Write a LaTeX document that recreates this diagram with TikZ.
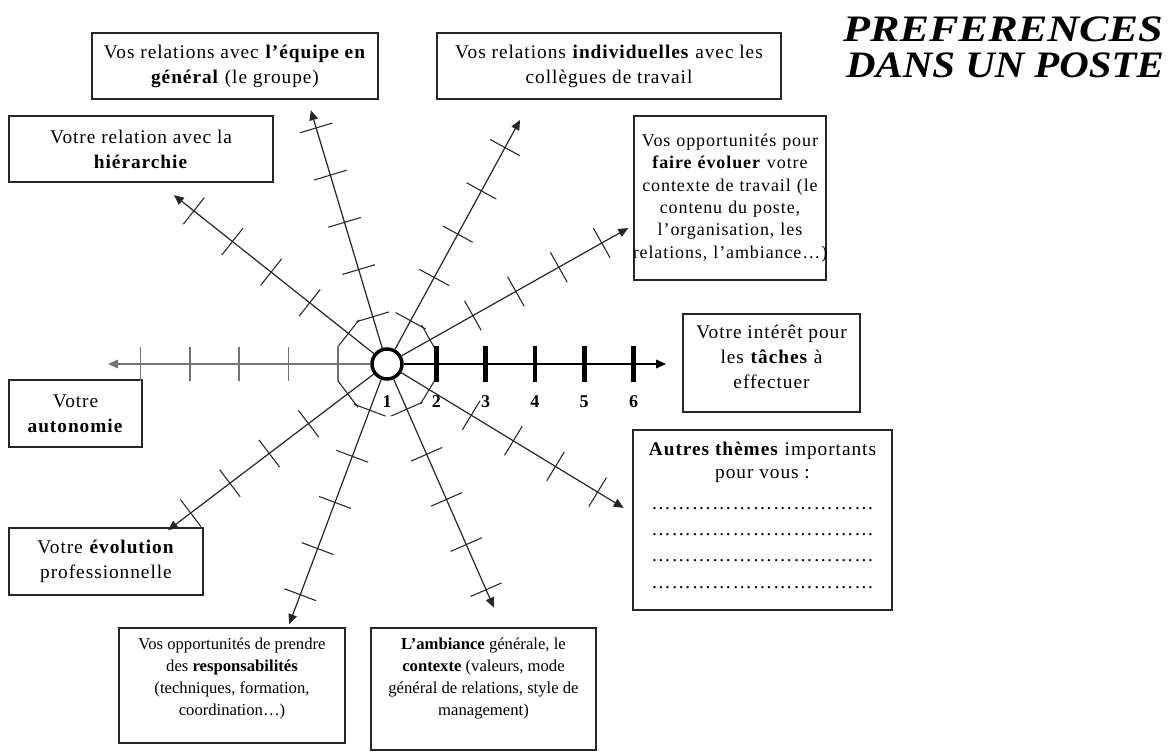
\documentclass[tikz,border=0pt]{standalone}
\usepackage{fontspec}
\setmainfont{Liberation Serif}
\newfontfamily\boxfont{Liberation Serif}[LetterSpace=5]
\usetikzlibrary{calc, arrows.meta}

\begin{document}
\begin{tikzpicture}[x=0.75pt, y=0.75pt,
    every node/.style={font=\boxfont\fontsize{14.5}{18.75}\selectfont},
    % Theme box: plain rectangle, thin border
    theme/.style={rectangle, draw=black!85, line width=1pt,
        align=center, inner sep=2pt},
    % Lower boxes are set tighter
    tight/.style={font=\rmfamily\fontsize{12.5}{16.5}\selectfont},
    % Centre of the star
    hub/.style={circle, draw=black, line width=2.6pt, fill=white,
        minimum size=22.5pt, inner sep=0pt},
    % Axes and their ticks
    axis/.style={line width=0.9pt, draw=black!85,
        -{Triangle[length=7.5pt, width=6.5pt]}},
    tick/.style={line width=0.8pt, draw=black!85},
    scaleaxis/.style={axis, draw=black, line width=1.1pt},
    scaletick/.style={line width=3.6pt, draw=black},
    greyaxis/.style={axis, draw=black!55, line width=1.1pt},
    greytick/.style={line width=1.3pt, draw=black!55},
    num/.style={font=\boxfont\fontsize{13.5}{15}\selectfont\bfseries, inner sep=1pt},
    title/.style={font=\rmfamily\fontsize{28}{30}\selectfont\bfseries\itshape, inner sep=0pt},
]
\useasboundingbox (0,0) rectangle (1175,-751);

% ====================================================
% TITLE
% ====================================================
\node[title] (title-a) at (1003,-29) {\scalebox{1.185}[1]{PREFERENCES}};
\node[title] (title-b) at (1005,-65) {\scalebox{1.094}[1]{DANS UN POSTE}};

% ====================================================
% THEME BOXES
% ====================================================
\node[theme, minimum width=214.5pt, minimum height=49.5pt] (equipe) at (235,-66)
    {Vos relations avec \textbf{l’équipe en}\\\textbf{général} (le groupe)};
\node[theme, minimum width=198pt, minimum height=49.5pt] (hier) at (141,-149)
    {Votre relation avec la\\\textbf{hiérarchie}};
\node[theme, minimum width=258pt, minimum height=49.5pt] (indiv) at (609,-66)
    {Vos relations \textbf{individuelles} avec les\\collègues de travail};
\node[theme, text width=140pt, minimum height=123pt,
    font=\boxfont\fontsize{13.5}{16.75}\selectfont] (evoluer) at (730,-198)
    {Vos opportunités pour\\\textbf{faire évoluer} votre\\contexte de travail (le\\contenu du poste,\\l’organisation, les\\\makebox[0pt]{relations, l’ambiance…)}};
\node[theme, minimum width=132.75pt, minimum height=73.5pt] (taches) at (771.5,-363)
    {Votre intérêt pour\\les \textbf{tâches} à\\effectuer\\[-9.75pt]\mbox{}};
\node[theme, minimum width=194.25pt, minimum height=135pt,
    font=\boxfont\fontsize{14.5}{16.5}\selectfont] (autres) at (762.5,-520)
    {\textbf{Autres thèmes} importants\\[1pt]pour vous :\\[6.5pt]……………………………\\[3.25pt]……………………………\\[3.25pt]……………………………\\[3.25pt]……………………………\\[-9pt]\mbox{}};
\node[theme, minimum width=99.75pt, minimum height=50.25pt] (autonomie) at (75.5,-413.5)
    {Votre\\\textbf{autonomie}};
\node[theme, minimum width=145.5pt, minimum height=50.25pt] (evolution) at (106,-561.5)
    {Votre \textbf{évolution}\\professionnelle};
\node[theme, tight, minimum width=169.5pt, minimum height=86.25pt] (respons) at (232,-685.5)
    {Vos opportunités de prendre\\des \textbf{responsabilités}\\(techniques, formation,\\coordination…)\\[-3pt]\mbox{}};
\node[theme, tight, minimum width=168.75pt, minimum height=91.5pt] (ambiance) at (483.5,-689)
    {\textbf{L’ambiance} générale, le\\\textbf{contexte}  (valeurs, mode\\général de relations, style de\\management)\\[1.5pt]\mbox{}};

% ====================================================
% STAR OF AXES
% ====================================================
\node[hub] (ctr) at (387,-364) {};

% Diagonal axes
\foreach \n/\a/\len in {hier/141.6/272, equipe/106.7/265, indiv/61.4/278,
        evoluer/29.4/277, autres/-31.3/277, ambiance/-66.3/266,
        respons/-110.6/278, evolution/-142.8/275} {
    \coordinate (\n-tip) at ($(ctr)+(\a:\len)$);
    \draw[axis] (ctr) -- (\n-tip);
    \begin{scope}[shift={(ctr.center)}, rotate=\a]
        \foreach \k in {1,...,5}
            \draw[tick] (\k*49.3,-17) -- (\k*49.3,17);
    \end{scope}
}

% Left axis (grey)
\coordinate (autonomie-tip) at ($(ctr)+(180:279)$);
\draw[greyaxis] (ctr) -- (autonomie-tip);
\foreach \k in {1,...,5}
    \draw[greytick] ($(ctr)+(-\k*49.3,-17)$) -- ($(ctr)+(-\k*49.3,17)$);

% Right axis (scale 1 to 6)
\coordinate (taches-tip) at ($(ctr)+(0:279)$);
\draw[scaleaxis] (ctr) -- (taches-tip);
\foreach \k in {1,...,5}
    \draw[scaletick] ($(ctr)+(\k*49.3,-18)$) -- ($(ctr)+(\k*49.3,18)$);
\foreach \k in {1,...,6}
    \node[num] (n\k) at (387+\k*49.3-49.3,-402) {\k};

\end{tikzpicture}
\end{document}
